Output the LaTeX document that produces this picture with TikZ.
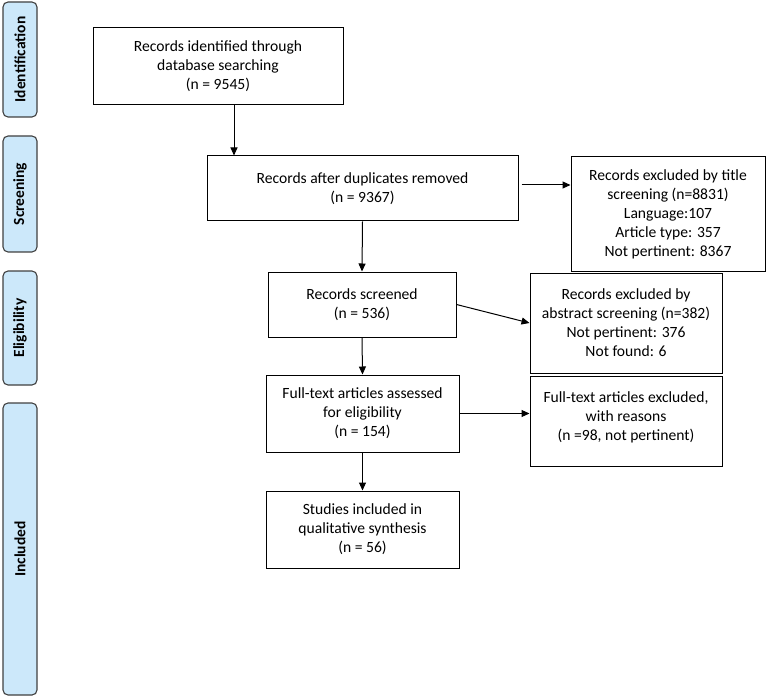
\documentclass[tikz,border=0pt]{standalone}
\usepackage{fontspec}
\setmainfont{Carlito}
\usetikzlibrary{arrows.meta}
\definecolor{phasefill}{HTML}{CCE8FA}
\definecolor{phasedraw}{HTML}{404040}
\tikzset{
  flowbox/.style={draw=black, line width=1pt, align=center, inner sep=0pt,
    font=\fontsize{15.6pt}{19pt}\selectfont},
  phase/.style={draw=phasedraw, fill=phasefill, line width=1.1pt, rounded corners=5pt},
  phaselabel/.style={rotate=90, font=\fontsize{15.5pt}{17pt}\selectfont\bfseries},
  arr/.style={line width=1pt, -{Triangle[length=8pt,width=7pt]}}
}
\begin{document}
\begin{tikzpicture}[x=1pt,y=-1pt]
\useasboundingbox (0,0) rectangle (767,700);
% phase side boxes
\draw[phase] (3,2) rectangle (37,117);
\node[phaselabel] (pid) at (20,59.5) {Identification};
\draw[phase] (3,136) rectangle (37,252);
\node[phaselabel] (psc) at (20,194) {Screening};
\draw[phase] (3,271) rectangle (37,385);
\node[phaselabel] (pel) at (20,328) {Eligibility};
\draw[phase] (3,403) rectangle (37,695);
\node[phaselabel] (pin) at (20,549) {Included};
% main boxes
\node[flowbox, minimum width=250pt, minimum height=77pt] (b1) at (218,66.5)
  {Records identified through\\database searching\\(n = 9545)};
\node[flowbox, minimum width=311pt, minimum height=65pt] (b2) at (362.5,188.5)
  {Records after duplicates removed\\(n = 9367)};
\node[flowbox, minimum width=194pt, minimum height=114pt] (r1) at (668,214)
  {Records excluded by title\\screening (n=8831)\\Language:107\\Article type: 357\\Not pertinent: 8367};
\node[flowbox, minimum width=188pt, minimum height=65pt] (s) at (362,304.5)
  {Records screened\\(n = 536)};
\node[flowbox, minimum width=192pt, minimum height=100pt] (r2) at (626,323)
  {Records excluded by\\abstract screening (n=382)\\Not pertinent: 376\\Not found: 6};
\node[flowbox, minimum width=193pt, minimum height=77pt] (f) at (362.5,413.5)
  {Full-text articles assessed\\for eligibility\\(n = 154)};
\node[flowbox, minimum width=192pt, minimum height=90pt] (r3) at (626,421)
  {Full-text articles excluded,\\with reasons\\(n =98, not pertinent)\\[-9pt]};
\node[flowbox, minimum width=193pt, minimum height=77pt] (st) at (362.5,529.5)
  {Studies included in\\qualitative synthesis\\(n = 56)};
% connectors
\draw[arr] ([xshift=16pt]b1.south) -- ([xshift=16pt]b1.south |- b2.north);
\draw[arr] ([xshift=3pt,yshift=3.5pt]b2.east) -- ([yshift=3.5pt]b2.east -| r1.west);
\draw[arr] (b2.south) -- (s.north);
\draw[arr] (s.east) -- (r2.west);
\draw[arr] (s.south) -- (f.north);
\draw[arr] (f.east) -- (f.east -| r3.west);
\draw[arr] (f.south) -- (st.north);
\end{tikzpicture}
\end{document}
